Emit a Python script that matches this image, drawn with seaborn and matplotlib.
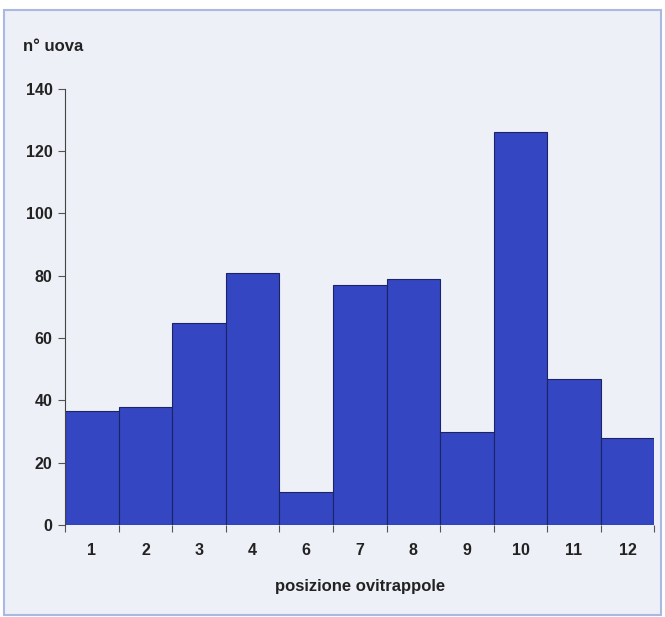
import pandas as pd
import matplotlib.pyplot as plt
import seaborn as sns
from matplotlib.patches import Rectangle

# Dati: uova per ovitrappola
posizioni = ["1", "2", "3", "4", "6", "7", "8", "9", "10", "11", "12"]
n_uova = [36.5, 38, 65, 81, 10.5, 77, 79, 30, 126, 47, 28]

df = pd.DataFrame({"posizione": posizioni, "uova": n_uova})

sns.set_style("ticks")
plt.rcParams["font.family"] = ["Liberation Sans", "DejaVu Sans"]

bg = "#eef0f7"
fig = plt.figure(figsize=(6.65, 6.17), dpi=100)
fig.patch.set_facecolor("white")
fig.patches.append(Rectangle((0.006, 0.003), 0.988, 0.98, transform=fig.transFigure,
                             facecolor=bg, edgecolor="#a9b9e2", linewidth=1.5, zorder=-1))

ax = fig.add_axes([0.098, 0.149, 0.886, 0.707])
ax.set_facecolor("none")

sns.barplot(data=df, x="posizione", y="uova", order=posizioni, color="#3446c2",
            width=1.0, saturation=1, edgecolor="#1c2466", linewidth=0.8, ax=ax)

ax.set_xlim(-0.5, len(posizioni) - 0.5)
ax.set_ylim(0, 140)
ax.set_yticks(range(0, 141, 20))

# tacche sui bordi delle barre
ax.set_xticks([i - 0.5 for i in range(len(posizioni) + 1)], minor=True)
ax.tick_params(axis="x", which="major", length=0, pad=13)
ax.tick_params(axis="x", which="minor", length=5, width=0.8, color="#555555")
ax.tick_params(axis="y", length=5, width=0.8, color="#555555", pad=4)

for lab in ax.get_xticklabels() + ax.get_yticklabels():
    lab.set_fontweight("bold")
    lab.set_fontsize(11.5)
    lab.set_color("#222222")

sns.despine(ax=ax, top=True, right=True, bottom=True)
ax.spines["left"].set_color("#444444")
ax.spines["left"].set_linewidth(0.8)

ax.set_ylabel("")
ax.set_xlabel("posizione ovitrappole", fontsize=12, fontweight="bold", color="#222222", labelpad=15)
fig.text(0.035, 0.918, "n° uova", fontsize=12, fontweight="bold", color="#222222")

fig.savefig("out.png", dpi=100)
